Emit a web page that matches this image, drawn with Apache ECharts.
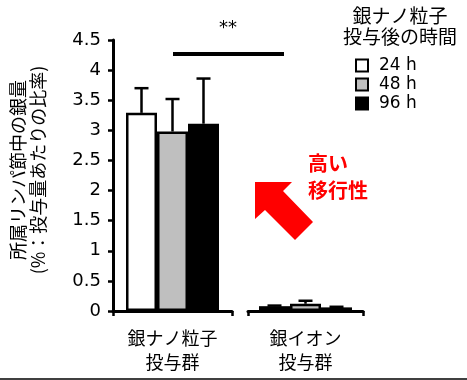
<!DOCTYPE html>
<html><head><meta charset="utf-8">
<script src="https://cdn.jsdelivr.net/npm/echarts@6/dist/echarts.min.js"></script>
<style>html,body{margin:0;padding:0;background:#fff}#c{width:467px;height:380px}</style>
</head><body><div id="c"></div>
<script>
var seriesNames = ['24 h', '48 h', '96 h'];
var groupCats1 = ['銀ナノ粒子\n投与群'];
var groupCats2 = ['銀イオン\n投与群'];
var nanoMeans = [3.29, 2.98, 3.11];
var nanoErrs = [0.41, 0.54, 0.75];
var ionMeans = [0.08, 0.12, 0.06];
var ionErrs = [0.01, 0.05, 0.01];
var yTicks = { min: 0, max: 4.5, interval: 0.5 };
var legendTitle = '銀ナノ粒子\n投与後の時間';
var yTitle1 = '所属リンパ節中の銀量';
var yTitle2 = '(%：投与量あたりの比率)';
var annotStar = '**';
var annotText = '高い\n移行性';

var colors = ['#ffffff', '#bfbfbf', '#000000'];
var BAR_W = 31;
var JP = '"Noto Sans CJK JP", sans-serif';
var NUM = '"DejaVu Sans", sans-serif';

var chart = echarts.init(document.getElementById('c'), null, { renderer: 'canvas' });

function xAxisCfg(cats, idx) {
  return {
    type: 'category', gridIndex: idx, data: cats,
    axisLine: { show: true, lineStyle: { color: '#000', width: 3 } },
    axisTick: { show: true, length: 5, lineStyle: { color: '#000', width: 2.5 } },
    axisLabel: { color: '#000', fontFamily: JP, fontSize: 18, lineHeight: 24, margin: 15 },
    splitLine: { show: false }
  };
}
function yAxisCfg(idx, visible) {
  return {
    type: 'value', gridIndex: idx, min: yTicks.min, max: yTicks.max, interval: yTicks.interval,
    show: visible,
    axisLine: { show: true, lineStyle: { color: '#000', width: 3 } },
    axisTick: { show: true, length: 5, lineStyle: { color: '#000', width: 2.5 } },
    axisLabel: { color: '#000', fontFamily: NUM, fontSize: 18, margin: 12 },
    splitLine: { show: false }
  };
}
function errSeries(means, errs, i, gi) {
  var offset = (i - 1) * BAR_W;
  return {
    type: 'custom', xAxisIndex: gi, yAxisIndex: gi, z: 5,
    data: [[0, means[i], errs[i]]],
    renderItem: function (params, api) {
      var base = api.coord([api.value(0), api.value(1)]);
      var top = api.coord([api.value(0), api.value(1) + api.value(2)]);
      var cx = base[0] + offset;
      return {
        type: 'group', children: [
          { type: 'line', shape: { x1: cx, y1: base[1], x2: cx, y2: top[1] }, style: { stroke: '#000', lineWidth: 2.5 } },
          { type: 'line', shape: { x1: cx - 7, y1: top[1], x2: cx + 7, y2: top[1] }, style: { stroke: '#000', lineWidth: 2.5 } }
        ]
      };
    }
  };
}
var series = [];
[[nanoMeans, nanoErrs, 0], [ionMeans, ionErrs, 1]].forEach(function (g) {
  seriesNames.forEach(function (nm, i) {
    series.push({
      type: 'bar', name: nm, xAxisIndex: g[2], yAxisIndex: g[2],
      data: [g[0][i]], barWidth: BAR_W, barGap: '0%',
      itemStyle: { color: colors[i], borderColor: '#000', borderWidth: 2.5 },
      emphasis: { disabled: true }
    });
  });
  seriesNames.forEach(function (nm, i) { series.push(errSeries(g[0], g[1], i, g[2])); });
});

chart.setOption({
  animation: false,
  backgroundColor: '#fff',
  title: {
    text: legendTitle, left: 395, top: 0, textAlign: 'center',
    textStyle: { fontFamily: JP, fontSize: 19, fontWeight: 'normal', lineHeight: 21, color: '#000' }
  },
  legend: {
    data: seriesNames, orient: 'vertical', left: 355, top: 57, padding: 0,
    itemWidth: 12, itemHeight: 12, itemGap: 2, icon: 'rect',
    textStyle: { fontFamily: NUM, fontSize: 17, lineHeight: 16, color: '#000', padding: [0, 0, 0, 6] },
    selectedMode: false
  },
  grid: [
    { left: 113, right: 235, top: 40, bottom: 69 },
    { left: 248, right: 104, top: 40, bottom: 69 }
  ],
  xAxis: [xAxisCfg(groupCats1, 0), xAxisCfg(groupCats2, 1)],
  yAxis: [yAxisCfg(0, true), yAxisCfg(1, false)],
  series: series,
  graphic: [
    { type: 'text', x: 18.5, y: 170, rotation: Math.PI / 2,
      style: { text: yTitle1, font: '18px ' + JP, fill: '#000', textAlign: 'center', textVerticalAlign: 'middle' } },
    { type: 'text', x: 38.5, y: 170, rotation: Math.PI / 2,
      style: { text: yTitle2, font: '18px ' + JP, fill: '#000', textAlign: 'center', textVerticalAlign: 'middle' } },
    { type: 'line', shape: { x1: 173, y1: 54, x2: 284, y2: 54 }, style: { stroke: '#000', lineWidth: 4 } },
    { type: 'text', x: 228, y: 28,
      style: { text: annotStar, font: '18px ' + NUM, fill: '#000', textAlign: 'center', textVerticalAlign: 'middle' } },
    { type: 'polygon', shape: { points: [[255, 182], [292, 182], [283, 191], [313, 222], [295, 240], [265, 210], [255, 219]] },
      style: { fill: '#ff0000' } },
    { type: 'text', x: 308, y: 150,
      style: { text: annotText, font: 'bold 20px ' + JP, fill: '#ff0000', lineHeight: 27, textAlign: 'left' } },
    { type: 'line', shape: { x1: 0, y1: 379, x2: 467, y2: 379 }, style: { stroke: '#000', lineWidth: 1.5 } }
  ]
});
</script></body></html>
